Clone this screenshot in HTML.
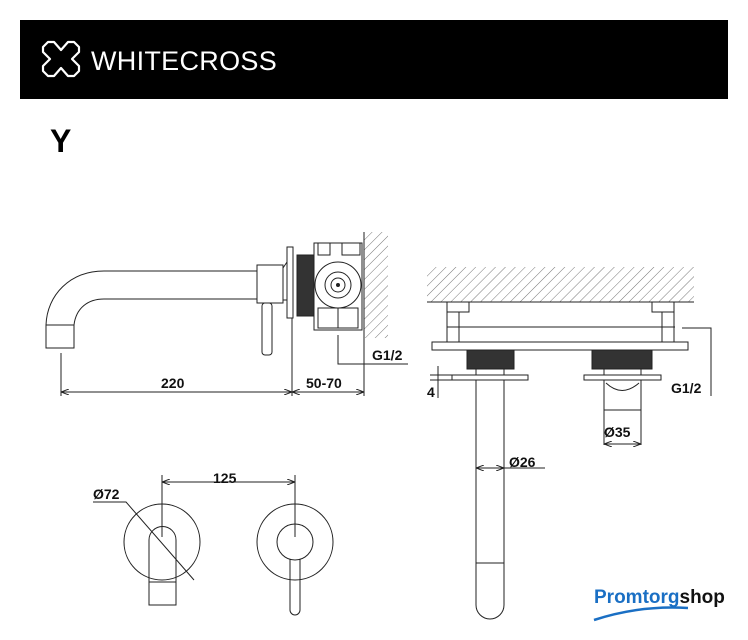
<!DOCTYPE html>
<html><head><style>
body{margin:0;background:#fff;width:748px;height:640px;overflow:hidden}
svg{display:block}
text{font-family:"Liberation Sans",Arial,sans-serif}
</style></head><body>
<svg width="748" height="640" viewBox="0 0 748 640" xmlns="http://www.w3.org/2000/svg">
<defs>
<pattern id="h" width="7" height="7" patternUnits="userSpaceOnUse" patternTransform="rotate(45)">
<line x1="0" y1="0" x2="0" y2="7" stroke="#555" stroke-width="0.8"/>
</pattern>
<marker id="a" markerWidth="8" markerHeight="6" refX="8" refY="3" orient="auto-start-reverse"><path d="M0,0 L8,3 L0,6" fill="none" stroke="#222" stroke-width="1"/></marker>
</defs>
<rect x="20" y="20" width="708" height="79" fill="#000"/>
<g fill="none" stroke="#fff" stroke-width="2.2" stroke-linejoin="round">
<path d="M48,42 L54,42 L61,50 L68,42 L74,42 L79,47 L79,52 L72,59 L79,66 L79,71 L74,76 L68,76 L61,68 L54,76 L48,76 L43,71 L43,66 L50,59 L43,52 L43,47 Z"/>
</g>
<text x="91" y="70" font-size="27" fill="#fff" letter-spacing="0.3">WHITECROSS</text>
<text x="50" y="152" font-size="32" font-weight="bold" fill="#000">Y</text>

<g fill="none" stroke="#222" stroke-width="1">
<rect x="364" y="232" width="24" height="106" fill="url(#h)" stroke="none"/>
<line x1="364" y1="232" x2="364" y2="396"/>
<path d="M104,271 L257,271 M104,299 L257,299"/>
<path d="M104,271 C70,271 47,295 46,325 M104,299 C88,299 76,308 74,325"/>
<rect x="46" y="325" width="28" height="23"/>
<rect x="257" y="265" width="26" height="38"/>
<path d="M283,268 L287,262 M283,300 L287,300"/>
<rect x="262" y="303" width="10" height="52" rx="3"/>
<rect x="287" y="247" width="6" height="71"/>
<rect x="297" y="255" width="17" height="61" fill="#333"/>
<rect x="314" y="243" width="48" height="87"/>
<rect x="318" y="243" width="12" height="12"/>
<rect x="342" y="243" width="18" height="12"/>
<rect x="318" y="308" width="40" height="20"/>
<line x1="338" y1="308" x2="338" y2="328"/>
<circle cx="338" cy="285" r="23"/>
<circle cx="338" cy="285" r="13"/>
<circle cx="338" cy="285" r="7"/>
<circle cx="338" cy="285" r="1.5" fill="#222"/>
<path d="M338,335 L338,364 L408,364"/>
<line x1="61" y1="353" x2="61" y2="396"/>
<line x1="292" y1="318" x2="292" y2="396"/>
<line x1="61" y1="392" x2="292" y2="392" marker-start="url(#a)" marker-end="url(#a)"/>
<line x1="292" y1="392" x2="364" y2="392" marker-start="url(#a)" marker-end="url(#a)"/>

<rect x="427" y="267" width="267" height="35" fill="url(#h)" stroke="none"/>
<line x1="427" y1="302" x2="694" y2="302"/>
<rect x="447" y="302" width="22" height="10"/>
<rect x="447" y="312" width="12" height="30"/>
<rect x="652" y="302" width="22" height="10"/>
<rect x="662" y="312" width="12" height="30"/>
<line x1="447" y1="327" x2="675" y2="327"/>
<rect x="432" y="342" width="256" height="8"/>
<rect x="467" y="350" width="47" height="19" fill="#333"/>
<rect x="592" y="350" width="60" height="19" fill="#333"/>
<rect x="476" y="369" width="28" height="6"/>
<rect x="604" y="369" width="37" height="6"/>
<rect x="452" y="375" width="76" height="5"/>
<rect x="584" y="375" width="77" height="5"/>
<path d="M476,380 L476,605 A14,14 0 0 0 504,605 L504,380"/>
<line x1="476" y1="563" x2="504" y2="563"/>
<path d="M604,380 L604,445 M641,380 L641,445"/>
<path d="M606,383 Q622,398 639,383"/>
<line x1="604" y1="410" x2="641" y2="410"/>
<line x1="604" y1="444" x2="641" y2="444" marker-start="url(#a)" marker-end="url(#a)"/>
<line x1="476" y1="468" x2="504" y2="468" marker-start="url(#a)" marker-end="url(#a)"/>
<line x1="504" y1="468" x2="545" y2="468"/>
<path d="M682,328 L711,328 L711,396"/>
<path d="M438,366 L438,398 M430,375 L452,375 M430,380 L452,380"/>

<circle cx="162" cy="542" r="38"/>
<path d="M149,605 L149,540 A13.5,13.5 0 0 1 176,540 L176,605 Z"/>
<line x1="149" y1="582" x2="176" y2="582"/>
<line x1="162" y1="475" x2="162" y2="537"/>
<circle cx="295" cy="542" r="38"/>
<circle cx="295" cy="542" r="18"/>
<path d="M290,559 L290,610 A5,5 0 0 0 300,610 L300,559"/>
<line x1="295" y1="475" x2="295" y2="537"/>
<line x1="162" y1="482" x2="295" y2="482" marker-start="url(#a)" marker-end="url(#a)"/>
<path d="M93,502 L126,502 L194,580"/>
</g>

<g font-weight="bold" fill="#111" font-size="14">
<text x="161" y="388">220</text>
<text x="306" y="388">50-70</text>
<text x="372" y="360">G1/2</text>
<text x="671" y="393">G1/2</text>
<text x="427" y="397">4</text>
<text x="604" y="437">Ø35</text>
<text x="509" y="467">Ø26</text>
<text x="213" y="483">125</text>
<text x="93" y="499">Ø72</text>
</g>
<text x="594" y="603" font-size="19" font-weight="bold" fill="#1a6fc4">Promtorg<tspan fill="#111">shop</tspan></text>
<path d="M594,620 Q640,605 688,608" fill="none" stroke="#1a6fc4" stroke-width="2.5"/>
</svg>
</body></html>
